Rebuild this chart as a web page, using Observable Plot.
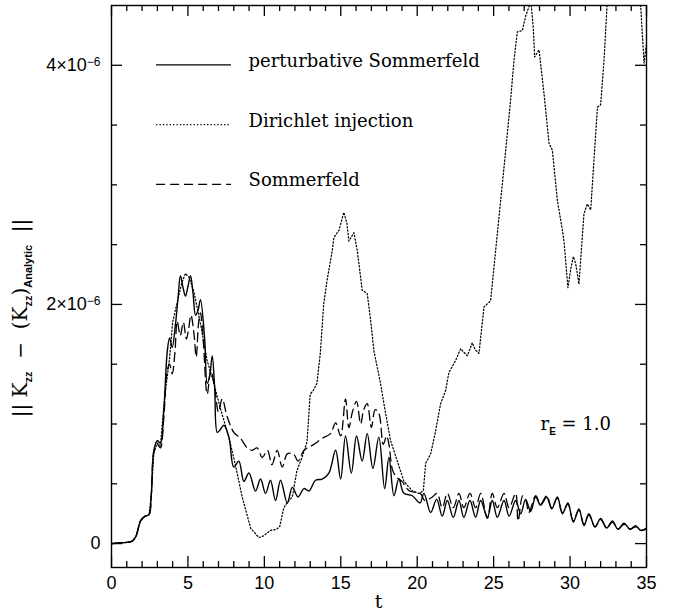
<!DOCTYPE html>
<html><head><meta charset="utf-8">
<script src="https://cdn.jsdelivr.net/npm/d3@7"></script>
<script src="https://cdn.jsdelivr.net/npm/@observablehq/plot@0.6"></script>
<style>body{margin:0;background:#fff}</style>
</head><body><div id="chart"></div>
<script>
// values in units of 1e-6
const perturbative = [[0,0],[0.5,0.005],[1.0,0.01],[1.35,0.02],[1.6,0.06],[1.9,0.19],[2.2,0.23],[2.45,0.24],[2.6,0.4],[2.77,0.78],[3.0,0.86],[3.2,0.84],[3.42,1.11],[3.65,1.61],[3.8,1.72],[3.97,1.64],[4.19,1.84],[4.35,2.05],[4.51,2.24],[4.68,2.14],[4.84,2.07],[5.0,2.15],[5.17,2.24],[5.33,2.1],[5.5,1.91],[5.66,1.95],[5.82,2.04],[6.09,1.72],[6.26,1.34],[6.42,1.4],[6.59,1.57],[6.75,1.3],[6.92,0.93],[7.1,0.95],[7.35,0.99],[7.68,0.89],[8.0,0.64],[8.33,0.69],[8.66,0.52],[8.99,0.59],[9.42,0.44],[9.75,0.54],[10.08,0.42],[10.4,0.53],[10.73,0.36],[11.06,0.53],[11.5,0.34],[11.83,0.47],[12.2,0.39],[12.59,0.46],[12.92,0.44],[13.35,0.53],[13.79,0.54],[14.22,0.59],[14.66,0.78],[14.99,0.54],[15.31,0.90],[15.69,0.59],[16.03,0.90],[16.4,0.69],[16.73,0.92],[17.1,0.63],[17.49,0.89],[17.87,0.46],[18.15,0.72],[18.48,0.40],[18.8,0.54],[19.13,0.42],[19.68,0.40],[20.18,0.34],[20.44,0.42],[20.88,0.26],[21.27,0.37],[21.64,0.23],[21.97,0.36],[22.36,0.22],[22.73,0.36],[23.05,0.22],[23.45,0.36],[23.82,0.22],[24.15,0.36],[24.59,0.22],[24.91,0.36],[25.24,0.22],[25.68,0.36],[26.01,0.23],[26.44,0.36],[26.77,0.25],[27.09,0.37],[27.42,0.27],[27.75,0.39],[28.08,0.32],[28.47,0.39],[28.8,0.29],[29.17,0.39],[29.5,0.25],[29.86,0.34],[30.21,0.18],[30.58,0.29],[30.91,0.15],[31.23,0.25],[31.63,0.14],[32.0,0.21],[32.4,0.13],[32.77,0.19],[33.13,0.12],[33.53,0.17],[33.92,0.12],[34.29,0.15],[34.62,0.11],[35.0,0.13]];

const dirichlet = [[0,0],[0.5,0.005],[1.0,0.01],[1.35,0.02],[1.6,0.06],[1.9,0.19],[2.2,0.23],[2.45,0.24],[2.6,0.4],[2.77,0.76],[3.0,0.84],[3.2,0.82],[3.5,1.25],[3.8,1.55],[4.0,1.85],[4.3,2.02],[4.6,2.18],[4.84,2.26],[5.1,2.22],[5.4,2.1],[5.82,1.84],[6.26,1.53],[6.7,1.34],[7.1,1.14],[7.68,0.89],[8.1,0.66],[8.55,0.39],[9.1,0.13],[9.64,0.05],[9.95,0.065],[10.4,0.11],[10.8,0.12],[11.0,0.14],[11.27,0.30],[11.6,0.36],[11.83,0.39],[12.13,0.61],[12.46,0.72],[12.79,0.85],[13.0,1.25],[13.2,1.28],[13.44,1.34],[13.66,1.59],[13.88,2.0],[14.1,2.2],[14.44,2.45],[14.55,2.56],[14.88,2.62],[15.2,2.77],[15.4,2.68],[15.53,2.53],[15.86,2.60],[16.08,2.45],[16.4,2.12],[16.73,2.09],[16.95,1.87],[17.17,1.61],[17.6,1.34],[17.93,1.09],[18.26,0.86],[18.7,0.69],[19.13,0.52],[19.68,0.44],[20.11,0.42],[20.4,0.44],[20.55,0.67],[20.88,0.75],[21.2,0.94],[21.53,1.17],[21.86,1.28],[22.07,1.43],[22.51,1.53],[22.84,1.63],[23.05,1.6],[23.28,1.57],[23.6,1.68],[23.8,1.62],[24.04,1.59],[24.37,1.98],[24.8,2.03],[25.02,2.31],[25.24,2.59],[25.57,3.01],[25.79,3.29],[26.11,3.71],[26.33,4.04],[26.55,4.28],[26.88,4.29],[27.09,4.41],[27.31,4.49],[27.45,4.52],[27.6,4.3],[27.68,4.07],[27.97,4.13],[28.29,3.77],[28.62,3.35],[28.84,3.29],[29.17,2.87],[29.5,2.62],[29.6,2.53],[29.86,2.14],[30.05,2.3],[30.21,2.40],[30.37,2.34],[30.58,2.17],[30.91,2.76],[31.13,2.84],[31.35,2.79],[31.79,3.65],[32.0,3.67],[32.22,4.04],[32.44,4.55],[32.8,5.0],[33.5,5.2],[34.2,5.0],[34.62,4.49],[34.84,4.02],[35.0,4.18]];

const sommerfeld = [[0,0],[0.5,0.005],[1.0,0.01],[1.35,0.02],[1.6,0.06],[1.9,0.19],[2.2,0.23],[2.45,0.24],[2.6,0.4],[2.77,0.76],[3.0,0.83],[3.2,0.8],[3.42,1.05],[3.65,1.45],[3.8,1.5],[3.97,1.42],[4.15,1.6],[4.3,1.86],[4.5,1.74],[4.7,1.85],[4.9,1.71],[5.05,1.8],[5.2,1.91],[5.4,1.75],[5.54,1.56],[5.7,1.85],[5.82,1.93],[6.0,1.7],[6.26,1.25],[6.5,1.45],[6.75,1.3],[7.0,1.1],[7.24,1.21],[7.57,1.06],[8.0,0.93],[8.44,0.88],[8.88,0.80],[9.2,0.78],[9.53,0.80],[9.86,0.72],[10.2,0.78],[10.5,0.66],[10.84,0.78],[11.17,0.64],[11.5,0.75],[11.9,0.75],[12.2,0.69],[12.6,0.78],[13.24,0.83],[13.79,0.88],[14.33,0.92],[14.66,1.01],[14.99,0.90],[15.31,1.21],[15.53,0.97],[15.76,1.1],[16.03,1.19],[16.3,1.0],[16.5,1.12],[16.73,1.17],[17.0,0.97],[17.25,1.12],[17.49,1.09],[17.78,0.83],[18.0,0.9],[18.15,0.83],[18.4,0.61],[18.7,0.55],[19.0,0.52],[19.5,0.44],[20.2,0.42],[20.5,0.36],[20.99,0.39],[21.3,0.42],[21.64,0.30],[21.97,0.42],[22.36,0.30],[22.73,0.42],[23.05,0.30],[23.45,0.42],[23.82,0.30],[24.15,0.42],[24.59,0.21],[24.91,0.42],[25.24,0.30],[25.68,0.42],[26.01,0.30],[26.44,0.42],[26.6,0.19],[26.9,0.40],[27.09,0.37],[27.3,0.26],[27.42,0.29],[27.75,0.40],[28.08,0.33],[28.47,0.40],[28.8,0.30],[29.17,0.38],[29.5,0.26],[29.86,0.33],[30.21,0.19],[30.58,0.28],[30.91,0.16],[31.23,0.24],[31.63,0.14],[32.0,0.20],[32.4,0.13],[32.77,0.18],[33.13,0.12],[33.53,0.16],[33.92,0.12],[34.29,0.14],[34.62,0.11],[35.0,0.12]];

const xTicks = [0, 5, 10, 15, 20, 25, 30, 35];
const xMinorTicks = [1,2,3,4,6,7,8,9,11,12,13,14,16,17,18,19,21,22,23,24,26,27,28,29,31,32,33,34];
const yTicks = [0, 2, 4];
const yTickLabels = ["0", "2×10^−6", "4×10^−6"];
const yMinorTicks = [0.5, 1, 1.5, 2.5, 3, 3.5];
const legendLabels = ["perturbative Sommerfeld", "Dirichlet injection", "Sommerfeld"];
const legendRows = [4, 3.5, 3];   // y positions (data units) of legend rows
const annotationText = "= 1.0";

const W = 678, H = 614;
const mL = 111, mR = 32, mT = 5, mB = 47;
const plotH = H - mT - mB, plotW = W - mL - mR;
const majorLen = 11, minorLen = 6;
const sansFont = "'Liberation Sans', Arial, sans-serif";
const serifFont = "'DejaVu Serif', serif";

const rows = (arr) => arr.map(([t, v]) => ({t, v}));

const plot = Plot.plot({
  width: W, height: H,
  marginLeft: mL, marginRight: mR, marginTop: mT, marginBottom: mB,
  style: {fontFamily: sansFont, fontSize: "18px", background: "#fff", color: "#000"},
  x: {domain: [0, 35], label: null},
  y: {domain: [-0.2, 4.5], label: null},
  marks: [
    Plot.ruleX(xTicks, {x: d => d, insetTop: plotH - majorLen, stroke: "#000", strokeWidth: 1.3}),
    Plot.ruleX(xTicks, {x: d => d, insetBottom: plotH - majorLen, stroke: "#000", strokeWidth: 1.3}),
    Plot.ruleX(xMinorTicks, {x: d => d, insetTop: plotH - minorLen, stroke: "#000", strokeWidth: 1.3}),
    Plot.ruleX(xMinorTicks, {x: d => d, insetBottom: plotH - minorLen, stroke: "#000", strokeWidth: 1.3}),
    Plot.ruleY(yTicks, {y: d => d, insetRight: plotW - majorLen, stroke: "#000", strokeWidth: 1.3}),
    Plot.ruleY(yTicks, {y: d => d, insetLeft: plotW - majorLen, stroke: "#000", strokeWidth: 1.3}),
    Plot.ruleY(yMinorTicks, {y: d => d, insetRight: plotW - minorLen, stroke: "#000", strokeWidth: 1.3}),
    Plot.ruleY(yMinorTicks, {y: d => d, insetLeft: plotW - minorLen, stroke: "#000", strokeWidth: 1.3}),
    Plot.axisX(xTicks, {tickSize: 0, tickPadding: 9, fontSize: 18, fontFamily: sansFont}),
    Plot.axisY(yTicks, {tickSize: 0, tickPadding: 11, fontSize: 18, fontFamily: sansFont,
      tickFormat: d => yTickLabels[yTicks.indexOf(d)]}),
    Plot.line(rows(dirichlet), {x: "t", y: "v", stroke: "#000", strokeWidth: 1.25, strokeDasharray: "1.3,2.1", clip: true}),
    Plot.line(rows(sommerfeld), {x: "t", y: "v", stroke: "#000", strokeWidth: 1.3, strokeDasharray: "9,5", curve: "catmull-rom", clip: true}),
    Plot.line(rows(perturbative), {x: "t", y: "v", stroke: "#000", strokeWidth: 1.4, curve: "catmull-rom", clip: true}),
    Plot.frame({stroke: "#000", strokeWidth: 1.4})
  ]
});

const svg = d3.select(plot);
svg.selectAll('g[aria-label="y-axis tick label"] text').each(function() {
  const s = this.textContent;
  const i = s.indexOf("^");
  if (i >= 0) {
    const sel = d3.select(this);
    sel.text(s.slice(0, i));
    sel.append("tspan").attr("dy", "-0.45em").style("font-size", "12px").text(s.slice(i + 1));
  }
});

const xs = plot.scale("x"), ys = plot.scale("y");

// legend
const dashes = [null, "1.3,2.1", "9,5"];
legendLabels.forEach((label, i) => {
  const y = ys.apply(legendRows[i]);
  const line = svg.append("line")
    .attr("x1", xs.apply(2.95)).attr("x2", xs.apply(7.85))
    .attr("y1", y).attr("y2", y)
    .attr("stroke", "#000").attr("stroke-width", 1.3);
  if (dashes[i]) line.attr("stroke-dasharray", dashes[i]);
  svg.append("text")
    .attr("x", xs.apply(9.0)).attr("y", y + 2)
    .attr("text-anchor", "start")
    .style("font-family", serifFont).style("font-size", "18px")
    .text(label);
});

// r_E annotation
const ann = svg.append("text")
  .attr("x", xs.apply(28.1)).attr("y", ys.apply(1.0) + 6)
  .attr("text-anchor", "start")
  .style("font-family", serifFont).style("font-size", "18px");
ann.append("tspan").text("r");
ann.append("tspan").attr("dy", 5).style("font-size", "10px").style("font-family", sansFont).style("font-weight", "bold").text("E");
ann.append("tspan").attr("dy", -5).text(" " + annotationText);

// x axis title
svg.append("text")
  .attr("x", (mL + W - mR) / 2).attr("y", H - 6)
  .attr("text-anchor", "middle")
  .style("font-family", serifFont).style("font-size", "19px")
  .text("t");

// y axis title
const yt = svg.append("text")
  .attr("transform", `translate(27,318) rotate(-90)`)
  .attr("text-anchor", "middle")
  .style("font-family", serifFont).style("font-size", "20px");
const subF = (sel, s) => sel.append("tspan").attr("dy", 5).style("font-size", "11px")
  .style("font-family", sansFont).style("font-weight", "bold").text(s);
yt.append("tspan").text("|| K");
subF(yt, "zz");
yt.append("tspan").attr("dy", -5).text("  −  (K");
subF(yt, "zz");
yt.append("tspan").attr("dy", -5).text(")");
subF(yt, "Analytic");
yt.append("tspan").attr("dy", -5).text("  ||");

document.getElementById("chart").appendChild(plot);
</script>
</body></html>
